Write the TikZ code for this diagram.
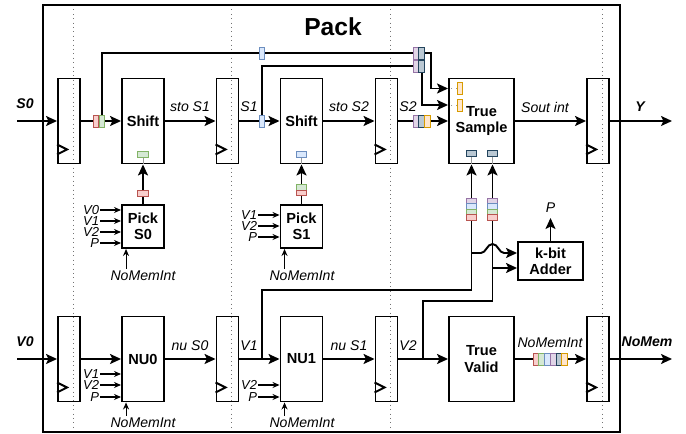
\documentclass[tikz,border=0pt]{standalone}
\usepackage{fontspec}
\setmainfont{Liberation Sans}
\usetikzlibrary{arrows.meta,backgrounds}
\definecolor{redfill}{HTML}{F8CECC}    \definecolor{redline}{HTML}{B85450}
\definecolor{greenfill}{HTML}{D5E8D4}  \definecolor{greenline}{HTML}{82B366}
\definecolor{bluefill}{HTML}{DAE8FC}   \definecolor{blueline}{HTML}{6C8EBF}
\definecolor{purplefill}{HTML}{E1D5E7} \definecolor{purpleline}{HTML}{9673A6}
\definecolor{slatefill}{HTML}{BAC8D3}  \definecolor{slateline}{HTML}{23445D}
\definecolor{orangefill}{HTML}{FFE6CC} \definecolor{orangeline}{HTML}{D79B00}

\begin{document}
\begin{tikzpicture}[
  x=0.2mm, y=-0.2mm,
  font=\fontsize{8}{9}\selectfont,
  >={Stealth[length=2.2mm,width=2mm,inset=0.5mm]},
  wire/.style={->, line width=1.1pt},
  bus/.style={line width=1.1pt},
  feed/.style={->, line width=0.6pt, >={Stealth[length=1.4mm,width=1.2mm]}},
  reg/.style={draw, line width=1.1pt, minimum width=4.4mm, minimum height=17mm,
              inner sep=0pt},
  blk/.style={draw, line width=1.1pt, fill=white, minimum width=8.4mm,
              minimum height=17mm, inner sep=0pt, align=center,
              font=\fontsize{8.3}{9.2}\selectfont\bfseries},
  sig/.style={font=\fontsize{8}{9}\selectfont\itshape, inner sep=1pt},
  inlab/.style={anchor=east, inner sep=0.3pt, text height=1.8mm, text depth=0pt,
              font=\fontsize{7.4}{8}\selectfont\itshape},
  port/.style={font=\fontsize{8}{9}\selectfont\bfseries\itshape, inner sep=1pt},
  vchip/.style={draw=#1line, fill=#1fill, line width=0.5pt, minimum width=1.15mm,
              minimum height=2.4mm, inner sep=0pt},
  hchip/.style={draw=#1line, fill=#1fill, line width=0.5pt, minimum width=2.1mm,
              minimum height=1.1mm, inner sep=0pt},
  stub/.style={draw=black!40, line width=0.5pt},
  divider/.style={black!55, dotted, line width=0.5pt}]

%% Lienzo en pixeles del original (686 x 434), eje y hacia abajo.
\useasboundingbox (0,0) rectangle (686,434);

%% ---- marco y titulo ----
\node[draw, line width=1.1pt, minimum width=115.4mm, minimum height=85.4mm,
      inner sep=0pt] (pack) at (331.5,218.5) {};
\node[font=\fontsize{14}{16}\selectfont\bfseries] (title) at (333,27) {Pack};

%% ---- registros ----
\node[reg] (r1t) at (69,121)    {};
\node[reg] (r2t) at (227.5,121) {};
\node[reg] (r3t) at (386.5,121) {};
\node[reg] (r4t) at (598,121)   {};
\node[reg] (r1b) at (69,359)    {};
\node[reg] (r2b) at (227.5,359) {};
\node[reg] (r3b) at (386.5,359) {};
\node[reg] (r4b) at (598,359)   {};
\foreach \r in {r1t,r2t,r3t,r4t,r1b,r2b,r3b,r4b}
  \draw[line width=1.1pt] ([yshift=2mm]\r.south west)
    -- ([xshift=2mm,yshift=3mm]\r.south west) -- ([yshift=4mm]\r.south west);

%% ---- bloques ----
\node[blk] (sh1) at (143,121)   {Shift};
\node[blk] (sh2) at (301.5,121) {Shift};
\node[blk, minimum width=13mm] (ts) at (481.5,121) {True\\Sample};
\node[blk] (nu0) at (143,359)   {NU0};
\node[blk] (nu1) at (301.5,359) {NU1};
\node[blk, minimum width=13mm] (tv) at (481.5,359) {True\\Valid};
\node[blk, minimum height=8.6mm] (pk0) at (143,226.5)   {Pick\\S0};
\node[blk, minimum height=8.6mm] (pk1) at (301.5,226.5) {Pick\\S1};
\node[blk, minimum width=13mm, minimum height=7.6mm] (add) at (550.5,261)
  {k-bit\\Adder};

%% ---- puertos ----
\node[port] (s0lab) at (25,104)  {S0};
\node[port] (v0lab) at (25,342)  {V0};
\node[port] (ylab)  at (640,107) {Y};
\node[port] (nmlab) at (647,342) {NoMem};
\coordinate (s0in)  at (17,121);
\coordinate (v0in)  at (17,359);
\coordinate (yout)  at (672,121);
\coordinate (nmout) at (672,359);

%% ---- nombres de las senales ----
\node[sig] (lsto1) at (190,107) {sto S1};
\node[sig] (ls1)   at (249,107) {S1};
\node[sig] (lsto2) at (349,107) {sto S2};
\node[sig] (ls2)   at (408,107) {S2};
\node[sig] (lsout) at (545,107) {Sout int};
\node[sig] (lnu0)  at (190,346) {nu S0};
\node[sig] (lv1)   at (249,346) {V1};
\node[sig] (lnu1)  at (349,346) {nu S1};
\node[sig] (lv2)   at (408,346) {V2};
\node[sig] (lnmi)  at (550,343) {NoMemInt};
\node[sig] (lp)    at (550.5,208) {P};
\coordinate (pout) at (550.5,218);

%% ---- fichas de color ----
\node[vchip=red]    (c0r) at (96,121)  {};
\node[vchip=green]  (c0g) at (102,121) {};
\node[vchip=blue]   (c1b) at (262,121) {};
\node[vchip=blue]   (c1u) at (262,53)  {};
\node[vchip=purple] (k1p) at (416,53)  {};
\node[vchip=slate]  (k1s) at (421.8,53) {};
\node[vchip=purple] (k2p) at (416,66)  {};
\node[vchip=slate]  (k2s) at (421.8,66) {};
\node[vchip=purple] (k3p) at (416,121) {};
\node[vchip=slate]  (k3s) at (421.8,121) {};
\node[vchip=orange] (k3o) at (427.6,121) {};
\node[vchip=orange] (o1) at (460,88.5) {};
\node[vchip=orange] (o2) at (460,105)  {};
\node[hchip=green]  (i0) at (143,154.5)   {};
\node[hchip=blue]   (i1) at (301.5,154.5) {};
\node[hchip=slate]  (ia) at (471.5,153.5) {};
\node[hchip=slate]  (ib) at (492.5,153.5) {};
\node[hchip=red]    (p0r) at (143,193.5)   {};
\node[hchip=green]  (p1g) at (301.5,187.5) {};
\node[hchip=red]    (p1r) at (301.5,193)   {};
\foreach \c/\n [count=\i from 0] in {purple/1,blue/2,green/3,red/4} {
  \node[hchip=\c] (qa\n) at (471.5,201+5.5*\i) {};
  \node[hchip=\c] (qb\n) at (492.5,201+5.5*\i) {};
}
\foreach \c [count=\i from 0] in {red,green,blue,purple,slate,orange}
  \node[vchip=\c] (nm\i) at (536+5.75*\i,359) {};

\draw[stub] (i0.south) -- (i0.south |- sh1.south);
\draw[stub] (i1.south) -- (i1.south |- sh2.south);
\draw[stub] (ia.south) -- (ia.south |- ts.south);
\draw[stub] (ib.south) -- (ib.south |- ts.south);
\draw[stub, dotted] (o1.west) -- (ts.west |- o1);
\draw[stub, dotted] (o2.west) -- (ts.west |- o2);

%% ---- entradas de Pick y NU ----
\foreach \s/\y in {V0/210,V1/221,V2/232,P/243}
  \node[inlab] (pa\s) at (100,\y) {\s};
\foreach \s/\y in {V1/215,V2/226,P/237}
  \node[inlab] (pb\s) at (258,\y) {\s};
\foreach \s/\y in {V1/374,V2/385,P/397}
  \node[inlab] (na\s) at (100,\y) {\s};
\foreach \s/\y in {V2/385,P/397}
  \node[inlab] (nb\s) at (258,\y) {\s};
\foreach \s in {V0,V1,V2,P} \draw[feed] (pa\s.east) -- (pa\s.east -| pk0.west);
\foreach \s in {V1,V2,P}    \draw[feed] (pb\s.east) -- (pb\s.east -| pk1.west);
\foreach \s in {V1,V2,P}    \draw[feed] (na\s.east) -- (na\s.east -| nu0.west);
\foreach \s in {V2,P}       \draw[feed] (nb\s.east) -- (nb\s.east -| nu1.west);

\node[sig] (ma) at (143,276)   {NoMemInt};
\node[sig] (mb) at (302,276)   {NoMemInt};
\node[sig] (mc) at (143,423)   {NoMemInt};
\node[sig] (md) at (302,423)   {NoMemInt};
\coordinate (mpa) at ([xshift=1mm]pk0.south west);
\coordinate (mpb) at ([xshift=1mm]pk1.south west);
\coordinate (mpc) at ([xshift=1mm]nu0.south west);
\coordinate (mpd) at ([xshift=1mm]nu1.south west);
\foreach \m in {a,b,c,d} \draw[feed] (mp\m |- m\m.north) -- (mp\m);

%% ---- conexiones (debajo de las fichas) ----
\coordinate (v1br) at (262,359);
\coordinate (v2br) at (423,359);
\coordinate (ja) at (471.5,290);
\coordinate (jb) at (492.5,301);
\coordinate (ka) at (471.5,253);
\coordinate (kb) at (492.5,268);
\begin{scope}[on background layer]
  \foreach \x in {73,231,390,602} \draw[divider] (\x,5) -- (\x,432);
  %% fila de arriba
  \draw[wire] (s0in) -- (r1t.west);
  \draw[wire] (r1t.east) -- (sh1.west);
  \draw[wire] (sh1.east) -- (r2t.west);
  \draw[wire] (r2t.east) -- (sh2.west);
  \draw[wire] (sh2.east) -- (r3t.west);
  \draw[wire] (r3t.east) -- (ts.west);
  \draw[wire] (ts.east) -- (r4t.west);
  \draw[wire] (r4t.east) -- (yout);
  \draw[bus]  (c0g.north) |- (k1p.west);
  \draw[wire] (k1s.east) -- ++(6,0) |- (ts.west |- o1);
  \draw[bus]  (c1b.north) |- (k2p.west);
  \draw[wire] (k2s.south) |- (ts.west |- o2);
  \draw[wire] (pk0.north) -- (sh1.south);
  \draw[wire] (pk1.north) -- (sh2.south);
  %% fila de abajo
  \draw[wire] (v0in) -- (r1b.west);
  \draw[wire] (r1b.east) -- (nu0.west);
  \draw[wire] (nu0.east) -- (r2b.west);
  \draw[wire] (r2b.east) -- (nu1.west);
  \draw[wire] (nu1.east) -- (r3b.west);
  \draw[wire] (r3b.east) -- (tv.west);
  \draw[wire] (tv.east) -- (r4b.west);
  \draw[wire] (r4b.east) -- (nmout);
  %% V1 y V2 hacia True Sample y el sumador
  \draw[bus]  (v1br) |- (ja) -- (qa4.south);
  \draw[wire] (qa1.north) -- (ts.south -| qa1);
  \draw[bus]  (v2br) |- (jb) -- (qb4.south);
  \draw[wire] (qb1.north) -- (ts.south -| qb1);
  \draw[wire] (ka) -- (481,253) .. controls (486,253) and (487,244) .. (492.5,244)
    .. controls (498,244) and (499,253) .. (504,253) -- ([yshift=1.6mm]add.west);
  \draw[wire] (kb) -- ([yshift=-1.4mm]add.west);
  \draw[wire] (add.north) -- (pout);
\end{scope}

\end{tikzpicture}
\end{document}
